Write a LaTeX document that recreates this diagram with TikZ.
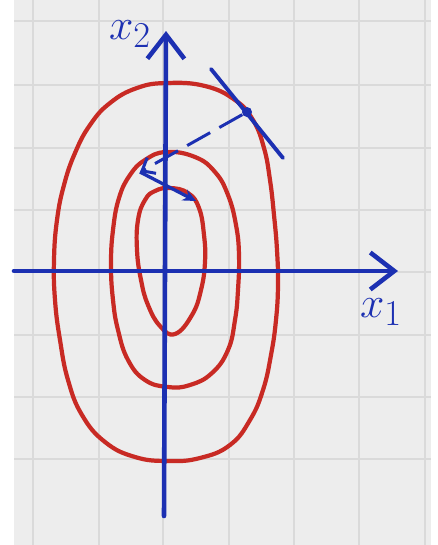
\documentclass[tikz,border=0pt]{standalone}
\usepackage{tikz}
\usetikzlibrary{arrows.meta}
\definecolor{mypaper}{RGB}{237,237,237}
\definecolor{mygrid}{RGB}{218,218,218}
\definecolor{myblue}{RGB}{28,48,178}
\definecolor{myred}{RGB}{200,42,36}
\tikzset{
  gridline/.style={draw=mygrid, line width=1.1pt},
  axis/.style={draw=myblue, line width=2.6pt, line cap=round, line join=round,
    -{Straight Barb[length=0.48cm, width=0.74cm]}},
  contour/.style={draw=myred, line width=2.4pt},
  pen/.style={draw=myblue, line width=2.2pt, line cap=round},
  dashstep/.style={draw=myblue, line width=1.7pt, dash pattern=on 15pt off 6pt,
    -{Straight Barb[length=0.22cm, width=0.36cm]}},
  solidstep/.style={draw=myblue, line width=1.9pt, -{Stealth[length=0.26cm, width=0.24cm]}},
  ptdot/.style={circle, fill=myblue, inner sep=0pt, minimum size=0.2cm},
  lbl/.style={text=myblue, font=\Huge}
}
\begin{document}
\begin{tikzpicture}[x=0.02cm, y=-0.02cm]
  \useasboundingbox (0,0) rectangle (437,545);
  \fill[mypaper] (14,0) rectangle (431,545);
  \foreach \gx in {33,99,163,229,294,359,425}
    \draw[gridline] (\gx,0) -- (\gx,545);
  \foreach \gy in {21,85,148,210,272,335,397,459}
    \draw[gridline] (14,\gy) -- (431,\gy);

  % level curves
  \draw[contour] plot[smooth cycle, tension=0.75] coordinates {
    (167,83) (205,86) (235,100) (253,120) (264,148) (270,180) (274,215)
    (277,250) (278,285) (276,320) (271,355) (263,390) (250,420) (230,445)
    (200,458) (168,461) (135,457) (105,442) (82,415) (68,380) (60,340)
    (55,300) (54,260) (57,220) (64,185) (75,153) (90,125) (110,103) (137,88)};
  \draw[contour] plot[smooth cycle, tension=0.75] coordinates {
    (166,152) (195,157) (215,172) (228,195) (236,225) (239,255) (238,290)
    (235,320) (228,350) (212,373) (190,385) (168,387) (145,380) (128,360)
    (118,330) (113,300) (111,265) (113,230) (119,198) (130,175) (145,160)};
  \draw[contour] plot[smooth cycle, tension=0.75] coordinates {
    (170,188) (188,193) (199,208) (204,235) (205,262) (201,290) (192,315)
    (175,334) (160,326) (148,305) (141,280) (137,250) (138,220) (145,200)
    (155,191)};

  % axes
  \coordinate (xstart) at (14,271);
  \coordinate (xtip) at (398,271);
  \coordinate (ybot) at (164,516);
  \coordinate (ytip) at (166,31);
  \draw[axis] (xstart) -- (xtip);
  \draw[axis] (ybot) -- (ytip);
  \node[lbl] (xone) at (381,312) {$x_1$};
  \node[lbl] (xtwo) at (130,34) {$x_2$};

  % tangent and steps
  \coordinate (ta) at (211,69);
  \coordinate (tb) at (283,158);
  \draw[pen] (ta) -- (tb);
  \node[ptdot] (pt) at (247,112) {};
  \coordinate (stepa) at (140,172);
  \coordinate (stepb) at (196,201);
  \draw[dashstep] (pt) -- (stepa);
  \draw[solidstep] (stepa) -- (stepb);
\end{tikzpicture}
\end{document}
